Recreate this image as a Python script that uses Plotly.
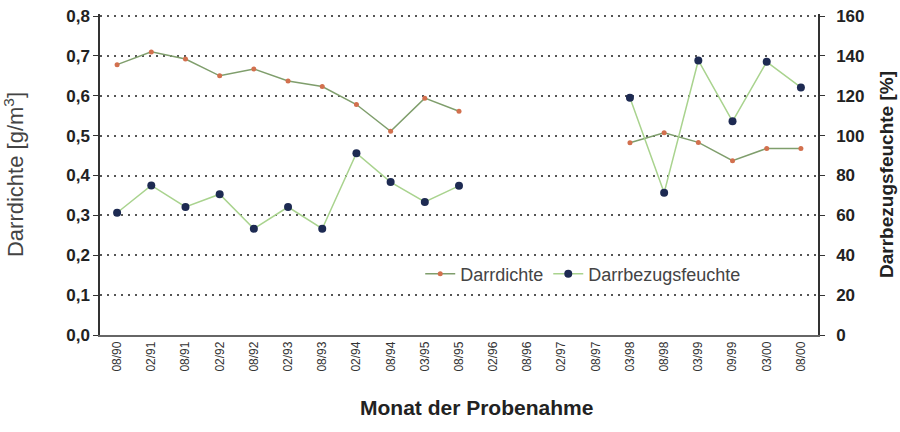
import plotly.graph_objects as go

months = ["08/90", "02/91", "08/91", "02/92", "08/92", "02/93", "08/93", "02/94", "08/94",
          "03/95", "08/95", "02/96", "08/96", "02/97", "08/97", "03/98", "08/98", "03/99",
          "09/99", "03/00", "08/00"]
darrdichte = [0.678, 0.710, 0.692, 0.650, 0.667, 0.637, 0.623, 0.578, 0.511, 0.594, 0.561,
              None, None, None, None, 0.482, 0.507, 0.483, 0.437, 0.468, 0.468]
feuchte = [61.3, 75.0, 64.2, 70.6, 53.3, 64.2, 53.3, 91.2, 76.7, 66.7, 74.8,
           None, None, None, None, 119.0, 71.3, 137.7, 107.2, 137.0, 124.2]

left_ticks = [0, 0.1, 0.2, 0.3, 0.4, 0.5, 0.6, 0.7, 0.8]
right_ticks = [0, 20, 40, 60, 80, 100, 120, 140, 160]

font_fam = "Arial, Liberation Sans, sans-serif"

fig = go.Figure()
fig.add_trace(go.Scatter(
    x=months, y=darrdichte, name="Darrdichte", mode="lines+markers",
    line=dict(color="#7f9e6c", width=1.5),
    marker=dict(color="#d2704e", size=5, symbol="circle"),
    connectgaps=False, yaxis="y"))
fig.add_trace(go.Scatter(
    x=months, y=feuchte, name="Darrbezugsfeuchte", mode="lines+markers",
    line=dict(color="#a9d38e", width=1.5),
    marker=dict(color="#1d2a52", size=8, symbol="circle"),
    connectgaps=False, yaxis="y2"))

# plot height 321 px; 0.8 / 160 placed 2 px below the top so their grid line shows
extra = 321 / 319

fig.update_layout(
    width=900, height=432,
    margin=dict(l=100, r=82, t=14, b=97),
    paper_bgcolor="white", plot_bgcolor="white",
    separators=",.",
    font=dict(family=font_fam, color="#333333"),
    showlegend=True,
    legend=dict(orientation="h", x=0.446, y=0.19, xanchor="left", yanchor="middle",
                bgcolor="rgba(255,255,255,0)", font=dict(size=18, color="#444444"),
                itemwidth=30, tracegroupgap=0),
    xaxis=dict(
        type="category", categoryorder="array", categoryarray=months,
        tickangle=-90, tickfont=dict(size=12, color="#333333"),
        showgrid=False, showline=True, linecolor="#666666", linewidth=1.5,
        ticks="", range=[-0.5, 20.5], automargin=False),
    yaxis=dict(
        range=[0, 0.8 * extra], tickvals=left_ticks, tickformat=".1f", automargin=False,
        tickfont=dict(size=17, color="#222222", weight="bold"),
        showgrid=True, gridcolor="#555555", griddash="2px,5px", gridwidth=1.5,
        showline=True, linecolor="#333333", linewidth=1.5,
        ticks="outside", ticklen=5, tickcolor="#333333", zeroline=False,
        title=dict(text="Darrdichte [g/m<sup>3</sup>]", font=dict(size=22, color="#444444"),
                   standoff=40)),
    yaxis2=dict(
        range=[0, 160 * extra], tickvals=right_ticks, overlaying="y", side="right",
        automargin=False,
        tickfont=dict(size=17, color="#222222", weight="bold"),
        showgrid=False, showline=True, linecolor="#333333", linewidth=1.5,
        ticks="outside", ticklen=5, tickcolor="#333333", zeroline=False,
        ticklabelstandoff=8,
        title=dict(text="<b>Darrbezugsfeuchte [%]</b>", font=dict(size=19, color="#222222"),
                   standoff=16)),
    annotations=[dict(
        text="<b>Monat der Probenahme</b>", xref="paper", yref="paper",
        x=0.524, y=-0.227, xanchor="center", yanchor="middle", showarrow=False,
        font=dict(size=21, color="#222222"))],
)

fig.write_html("out.html", config={"displayModeBar": False},
               post_script="document.body.style.margin='0';")
